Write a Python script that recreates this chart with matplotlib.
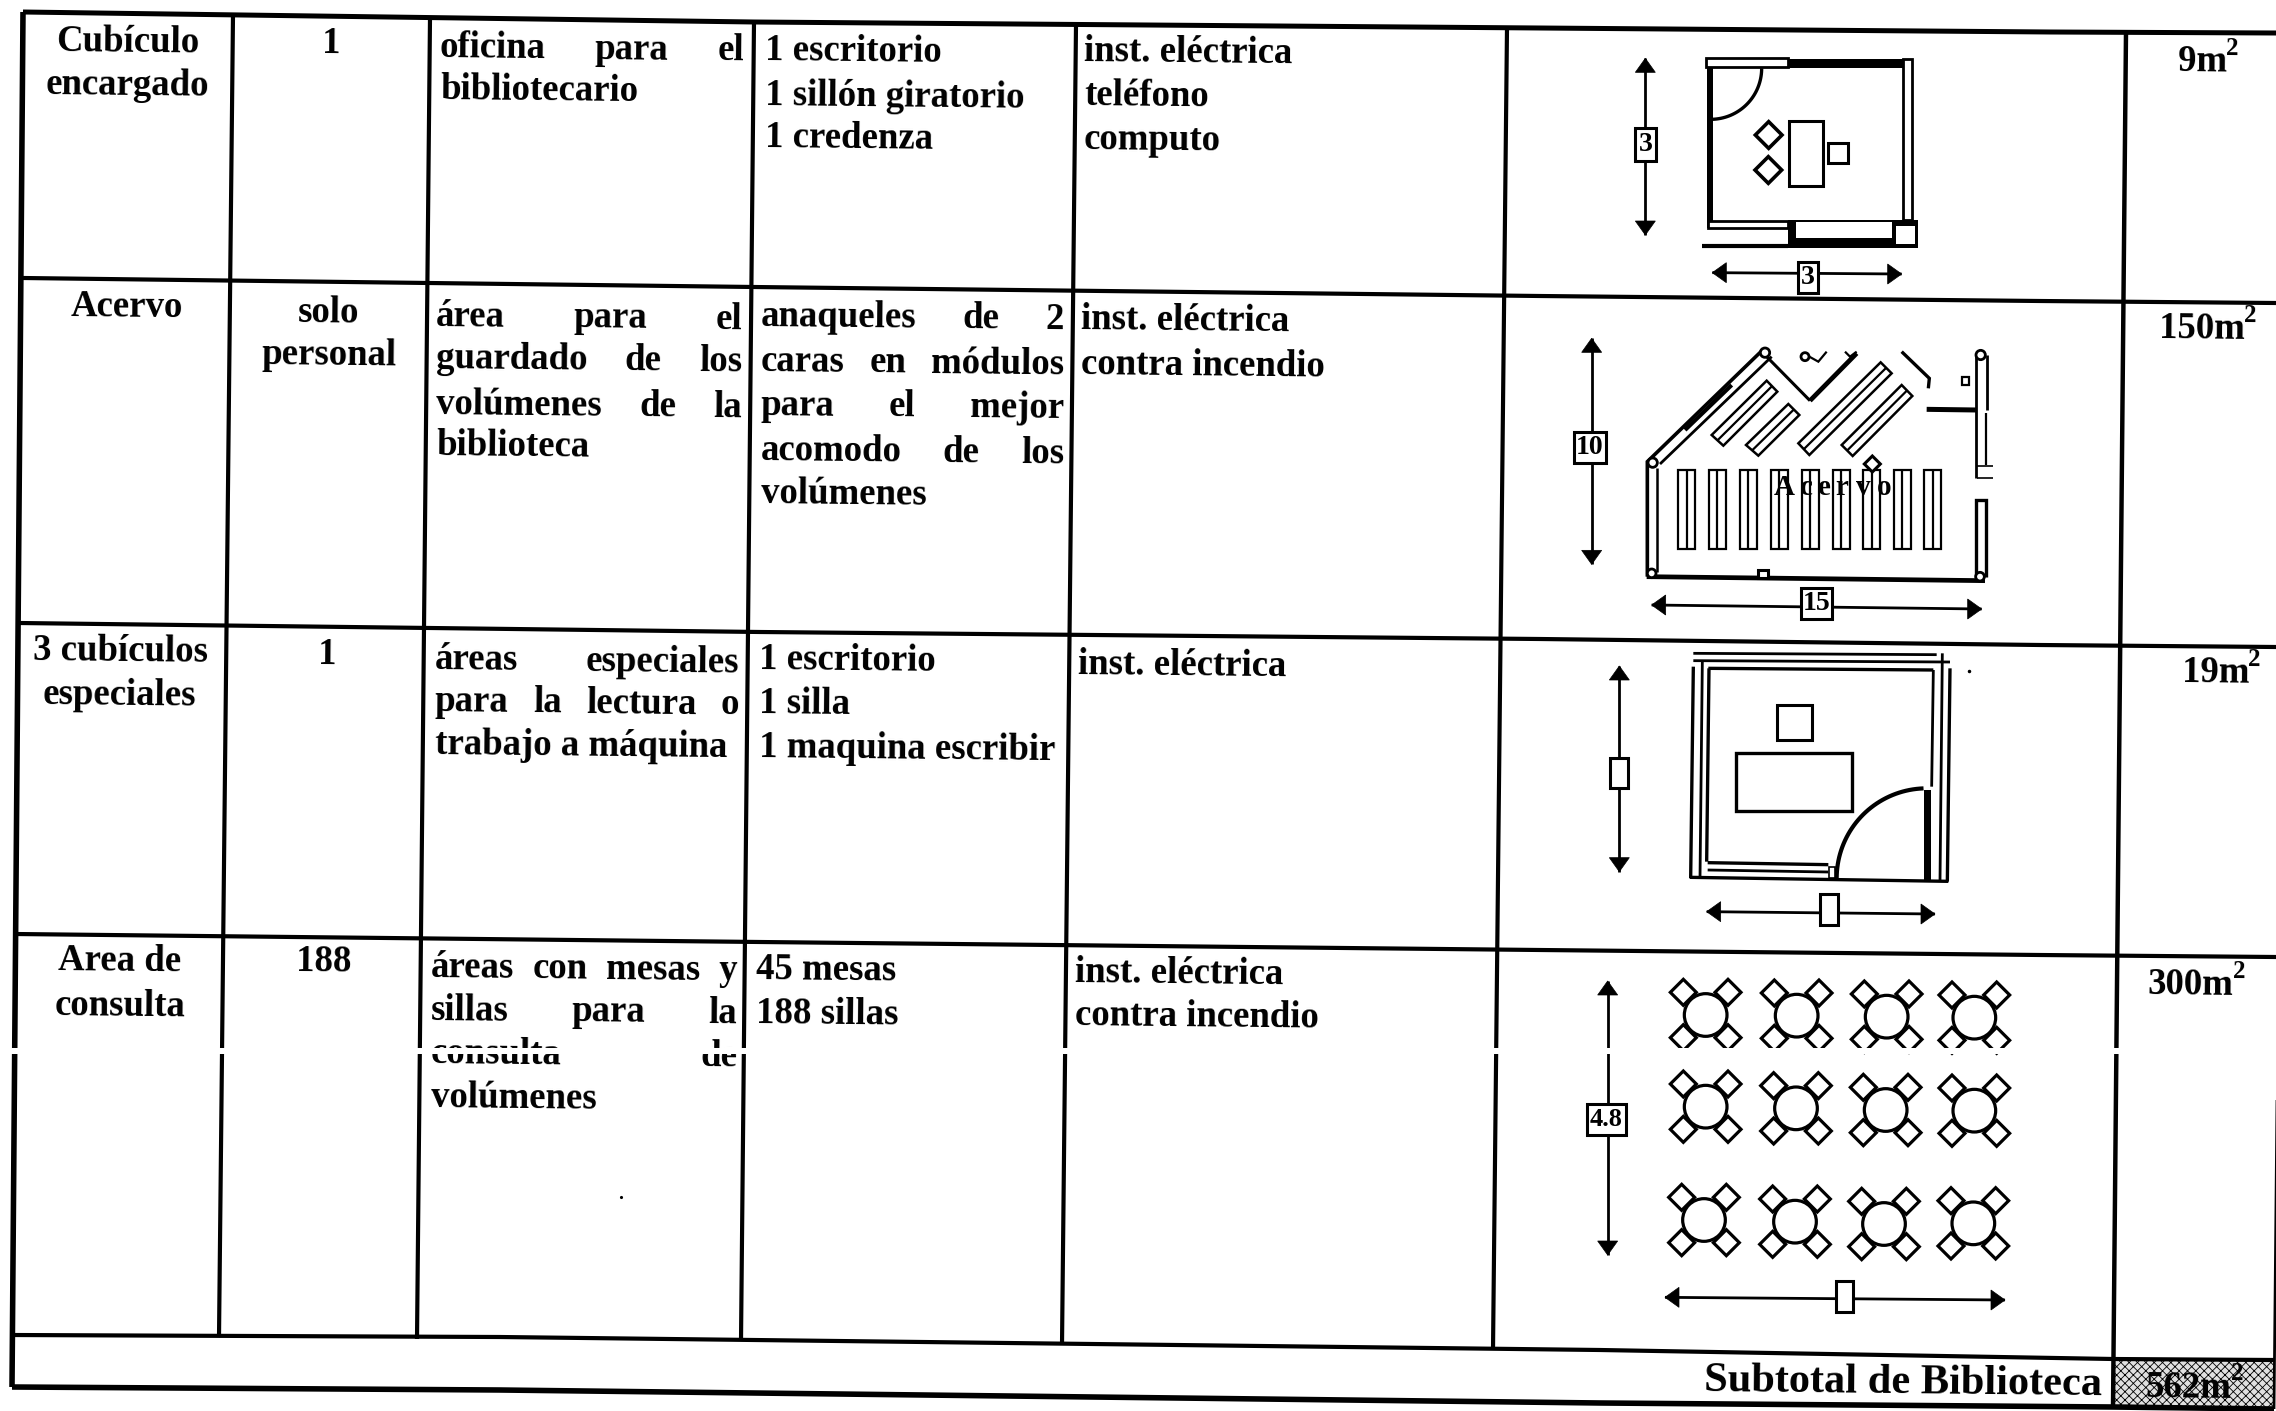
import numpy as np
import matplotlib
matplotlib.use('Agg')
import matplotlib.pyplot as plt
from matplotlib.patches import Polygon, Circle
from matplotlib.transforms import Affine2D

plt.rcParams['font.family'] = ['Liberation Serif']
plt.rcParams['font.weight'] = 'bold'
plt.rcParams['hatch.linewidth'] = 0.6

espacio = [['Cubículo', 'encargado'], ['Acervo'], ['3 cubículos', 'especiales'], ['Area de', 'consulta']]
usuarios = [['1'], ['solo', 'personal'], ['1'], ['188']]
descripcion = [['oficina para el', 'bibliotecario'],
               ['área para el', 'guardado de los', 'volúmenes de la', 'biblioteca'],
               ['áreas especiales', 'para la lectura o', 'trabajo a máquina'],
               ['áreas con mesas y', 'sillas para la', 'consulta de', 'volúmenes']]
mobiliario = [['1 escritorio', '1 sillón giratorio', '1 credenza'],
              ['anaqueles de 2', 'caras en módulos', 'para el mejor', 'acomodo de los', 'volúmenes'],
              ['1 escritorio', '1 silla', '1 maquina escribir'],
              ['45 mesas', '188 sillas']]
instalaciones = [['inst. eléctrica', 'teléfono', 'computo'], ['inst. eléctrica', 'contra incendio'],
                 ['inst. eléctrica'], ['inst. eléctrica', 'contra incendio']]
areas = ['9m', '150m', '19m', '300m']
total = '562m'
total_label = 'Subtotal de Biblioteca'
cotas = ['3', '3', '10', '15', '4.8']

SLOPE = 0.0105
FS = 26.5

fig = plt.figure(figsize=(22.76, 14.11), dpi=100)
ax = fig.add_axes([0, 0, 1, 1])
ax.set_xlim(0, 2276)
ax.set_ylim(1411, 0)
ax.axis('off')
rend = fig.canvas.get_renderer()


def word(x, y, s, fs=FS, ha='left'):
    return ax.text(x, y, s, fontsize=fs, ha=ha, va='baseline', rotation=-0.6, rotation_mode='anchor',
                   color='black', zorder=5)


def width(s, fs=FS):
    t = ax.text(0, 0, s, fontsize=fs)
    w = t.get_window_extent(rend).width
    t.remove()
    return w


def justified(x0, x1, y, s):
    words = s.split()
    gap = (x1 - x0 - sum(width(w) for w in words)) / (len(words) - 1)
    x = x0
    for w in words:
        word(x, y + SLOPE * (x - x0), w)
        x += width(w) + gap


def column(lines, xs, ys, ha='left', just=None):
    for i, s in enumerate(lines):
        if just and i < just[2]:
            justified(just[0], just[1], ys[i], s)
        else:
            word(xs, ys[i], s, ha=ha)


def line(xs, ys, lw=3.0, tr=None):
    ax.plot(xs, ys, color='black', lw=lw, solid_capstyle='butt', solid_joinstyle='miter',
            transform=tr if tr else ax.transData, zorder=3)


# table lines
line([23, 754, 1540, 2050, 2276], [12, 22, 28, 32, 33], 3.6)
line([23, 754, 1540, 2040, 2276], [278, 287, 296, 301, 303], 3.0)
line([19, 760, 1540, 2040, 2276], [623, 632, 639, 645, 647], 3.0)
line([15, 760, 1540, 2040, 2276], [934, 942, 950, 955, 957], 3.0)
line([12, 500, 1600, 2113, 2274], [1335, 1337, 1350, 1359, 1360], 3.0)
line([12, 500, 1600, 2113, 2274], [1387, 1390, 1403, 1407, 1409], 4.0)
line([23, 12], [12, 1387], 4.0)
for xa, xb, ya, yb in [(233, 219, 15, 1337), (430, 417, 18, 1339), (754, 741, 22, 1341),
                       (1076, 1062, 25, 1345), (1507, 1493, 28, 1350)]:
    line([xa, xb], [ya, yb], 3.0)
line([2126, 2113], [32, 1408], 3.2)
line([2277, 2274], [1100, 1409], 2.0)

# shaded total cell
ax.add_patch(Polygon([(2114, 1360), (2274, 1361), (2274, 1409), (2114, 1407)], facecolor='#e0e0e0',
                     edgecolor='black', hatch='xxxx', lw=0, zorder=1))

# text
rows_y = [[52, 95], [317], [661, 705], [971, 1016]]
x_col0 = [128, 127, 120, 120]
for r in range(4):
    column(espacio[r], x_col0[r], rows_y[r], ha='center')
column(usuarios[0], 331, [53], ha='center')
column(usuarios[1], 329, [322, 365], ha='center')
column(usuarios[2], 327, [664], ha='center')
column(usuarios[3], 324, [971], ha='center')

column(descripcion[0], 440, [57, 99], just=(440, 744, 1))
column(descripcion[1], 436, [326, 368, 414, 455], just=(436, 742, 3))
column(descripcion[2], 435, [669, 711, 754], just=(435, 739, 2))
column(descripcion[3], 431, [977, 1020, 1063, 1107], just=(431, 737, 3))

column(mobiliario[0], 765, [60, 105, 147])
column(mobiliario[1], 761, [326, 371, 415, 460, 503], just=(761, 1064, 4))
column(mobiliario[2], 759, [669, 713, 757])
column(mobiliario[3], 756, [979, 1023])

column(instalaciones[0], 1084, [61, 105, 149])
column(instalaciones[1], 1081, [329, 374])
column(instalaciones[2], 1078, [674])
column(instalaciones[3], 1075, [982, 1025])

area_x = [2178, 2159, 2182, 2148]
area_y = [71, 338, 682, 994]
for a, x, y in zip(areas, area_x, area_y):
    word(x, y, a)
    word(x + width(a) - 1, y - 16, '2', fs=18)
word(2102, 1395, total_label, fs=30.5, ha='right')
word(2145, 1397, total)
word(2145 + width(total), 1380, '2', fs=18)


def T(x0, y0):
    return Affine2D().scale(1 / 3).translate(x0, y0) + ax.transData


def box(tr, x0, y0, x1, y1, lw=2.2, fc='white', z=4):
    ax.add_patch(Polygon([(x0, y0), (x1, y0), (x1, y1), (x0, y1)], closed=True, facecolor=fc, edgecolor='black',
                         lw=lw, transform=tr, zorder=z))


def diamond(tr, cx, cy, r, lw=2.6):
    ax.add_patch(Polygon([(cx - r, cy), (cx, cy - r), (cx + r, cy), (cx, cy + r)], closed=True, facecolor='white',
                         edgecolor='black', lw=lw, transform=tr, zorder=3))


def tri(tr, pts):
    ax.add_patch(Polygon(pts, closed=True, facecolor='black', edgecolor='black', lw=0.5, transform=tr, zorder=3))


def arrow_v(tr, x, top, bot):
    line([x, x], [top, bot], 2.0, tr)
    tri(tr, [(x, top), (x - 30, top + 42), (x + 30, top + 42)])
    tri(tr, [(x, bot), (x - 30, bot - 42), (x + 30, bot - 42)])


def cota(tr, x0, y0, x1, y1, label=None, fs=17):
    box(tr, x0, y0, x1, y1)
    if label:
        ax.text((x0 + x1) / 2, (y0 + y1) / 2, label, fontsize=fs, ha='center', va='center', transform=tr, zorder=5)


def arrow_h(tr, y0, y1, left, right):
    line([left, right], [y0, y1], 2.0, tr)
    tri(tr, [(left, y0), (left + 42, y0 - 30), (left + 42, y0 + 30)])
    tri(tr, [(right, y1), (right - 42, y1 - 30), (right - 42, y1 + 30)])


def arc(tr, cx, cy, r, a0, a1, lw=2.4):
    a = np.radians(np.linspace(a0, a1, 40))
    line(cx + r * np.cos(a), cy + r * np.sin(a), lw, tr)


# cubiculo encargado
t = T(1540, 20)
arrow_v(t, 316, 115, 645)
cota(t, 285, 325, 348, 422, cotas[0], 20)
arrow_h(t, 758, 762, 517, 1085)
cota(t, 773, 725, 833, 818, cotas[1], 20)
box(t, 497, 115, 745, 140, 2.0)
box(t, 745, 117, 1088, 145, 0, 'black')
box(t, 1088, 117, 1116, 600, 2.0)
box(t, 500, 140, 518, 625, 0, 'black')
box(t, 505, 602, 745, 625, 2.0)
line([487, 745], [677, 677], 3.0, t)
box(t, 745, 600, 1135, 685, 0, 'black')
box(t, 768, 606, 1055, 655, 0)
box(t, 1068, 618, 1125, 672, 0)
arc(t, 512, 145, 153, 0, 90)
diamond(t, 686, 345, 40)
diamond(t, 685, 450, 40)
box(t, 748, 302, 848, 497)
box(t, 865, 370, 923, 430)

# acervo
t = T(1540, 310)
arrow_v(t, 155, 85, 763)
cota(t, 103, 367, 197, 460, cotas[2], 20)
arrow_h(t, 885, 897, 335, 1325)
cota(t, 783, 835, 877, 928, cotas[3], 20)
line([322, 322, 670], [800, 455, 118], 2.6, t)
line([360, 695], [462, 140], 2.0, t)
line([352, 352], [475, 785], 1.8, t)
line([435, 575], [360, 225], 3.0, t)
line([320, 1335], [800, 812], 3.4, t)
line([1308, 1308, 1338, 1338], [800, 570, 570, 800], 2.4, t)
line([1308, 1308], [135, 505], 2.0, t)
line([1340, 1340], [135, 300], 2.0, t)
line([1338, 1338], [310, 465], 1.6, t)
line([1160, 1310], [298, 300], 3.6, t)
line([1310, 1360], [505, 505], 1.2, t)
line([1310, 1360], [468, 468], 1.2, t)
line([1085, 1168, 1165], [125, 205, 235], 2.4, t)
line([680, 810], [140, 272], 2.2, t)
line([810, 950], [272, 130], 3.4, t)
line([808, 835, 860], [140, 155, 125], 1.6, t)
line([915, 930, 950], [125, 140, 125], 1.6, t)
for cx, cy, r in [(338, 458, 14), (335, 790, 13), (1320, 800, 13), (675, 128, 14), (1322, 135, 14), (795, 140, 12)]:
    ax.add_patch(Circle((cx, cy), r, facecolor='white', edgecolor='black', lw=2.0, transform=t, zorder=3))
box(t, 655, 780, 685, 805)
box(t, 1265, 200, 1288, 225, 1.6)
shelf_pts = [[(515, 375), (680, 212), (712, 245), (550, 407)], [(618, 405), (745, 282), (778, 315), (655, 437)],
             [(775, 400), (1022, 157), (1055, 190), (808, 435)], [(905, 405), (1085, 225), (1117, 258), (938, 438)]]
for p in shelf_pts:
    ax.add_patch(Polygon(p, closed=True, facecolor='white', edgecolor='black', lw=1.8, transform=t, zorder=3))
    line([(p[0][0] + p[3][0]) / 2, (p[1][0] + p[2][0]) / 2], [(p[0][1] + p[3][1]) / 2, (p[1][1] + p[2][1]) / 2], 1.6, t)
for x0 in [415, 507, 600, 693, 785, 878, 970, 1062, 1153]:
    box(t, x0, 480, x0 + 51, 717, 1.6, z=3)
    line([x0 + 25, x0 + 25], [480, 717], 1.6, t)
diamond(t, 997, 462, 24, 2.2)
for x, s in zip([733, 800, 852, 905, 970, 1032], 'Acervo'):
    ax.text(x, 555, s, fontsize=21, ha='center', va='baseline', transform=t, zorder=5)

# cubiculos especiales
t = T(1540, 630)
arrow_v(t, 238, 108, 725)
cota(t, 210, 383, 265, 475)
arrow_h(t, 845, 852, 500, 1185)
cota(t, 840, 792, 893, 885)
line([460, 1190], [70, 74], 2.0, t)
line([460, 1230], [92, 96], 2.0, t)
line([505, 1180], [115, 120], 2.4, t)
line([460, 452], [110, 745], 2.4, t)
line([487, 480], [95, 745], 2.0, t)
line([507, 500], [115, 695], 2.4, t)
line([1180, 1175], [120, 470], 2.0, t)
line([1207, 1200], [70, 752], 2.0, t)
line([1230, 1222], [115, 755], 2.4, t)
line([450, 1225], [742, 754], 2.4, t)
line([503, 865], [698, 704], 2.4, t)
line([503, 865], [720, 726], 2.0, t)
box(t, 1152, 480, 1172, 750, 0, 'black')
box(t, 866, 710, 884, 745, 1.2)
arc(t, 1160, 745, 270, 180, 268, 3.0)
box(t, 712, 226, 815, 330)
box(t, 587, 370, 935, 542, 2.4)
ax.plot([1288], [122], 'k.', ms=3, transform=t, zorder=3)

# area de consulta
t = T(1540, 950)
arrow_v(t, 203, 93, 915)
cota(t, 140, 462, 258, 555, cotas[4], 19)
arrow_h(t, 1042, 1050, 375, 1395)
cota(t, 887, 992, 940, 1085)
mesa_x = [[497, 770, 1040, 1303], [497, 768, 1037, 1303], [492, 765, 1032, 1300]]
mesa_y = [[195, 197, 200, 203], [470, 475, 480, 482], [810, 815, 822, 820]]
for fx, fy in zip(mesa_x, mesa_y):
    for cx, cy in zip(fx, fy):
        for dx, dy in [(-67, -68), (67, -68), (-67, 68), (67, 68)]:
            diamond(t, cx + dx, cy + dy, 39, 2.3)
        ax.add_patch(Circle((cx, cy), 64, facecolor='white', edgecolor='black', lw=2.3, transform=t, zorder=4))

ax.plot([621], [1197], 'k.', ms=2.5)

# white scan gap
ax.fill_between([0, 2276], [1047.5, 1047.5], [1053.5, 1053.5], color='white', lw=0, zorder=10)

fig.savefig('out.png', dpi=100)
